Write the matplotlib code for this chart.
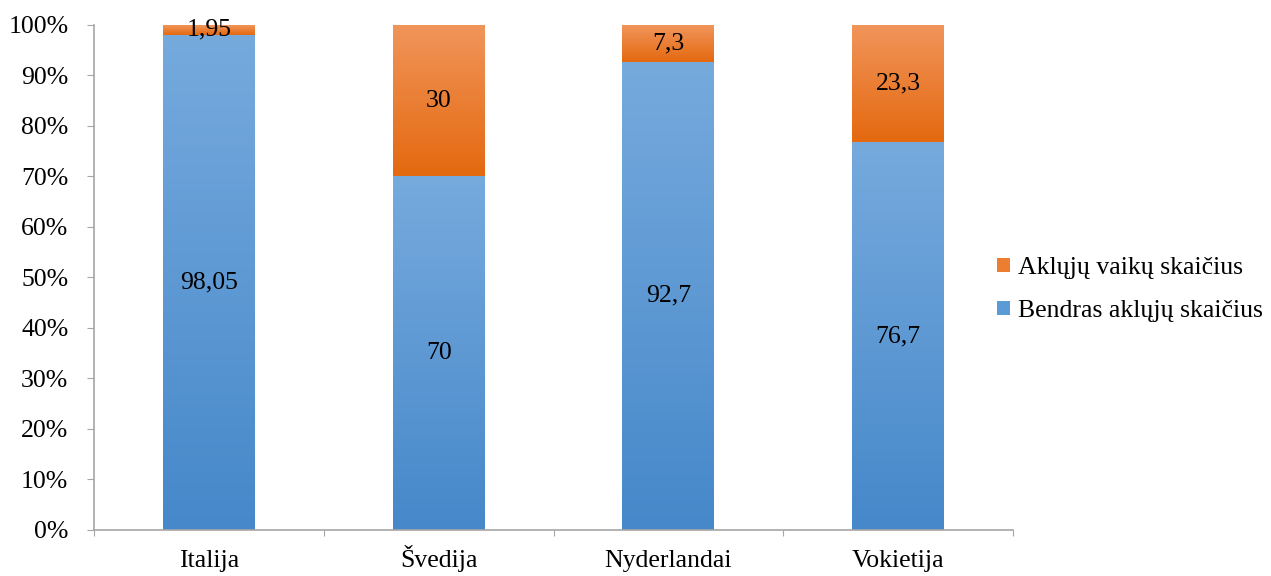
import numpy as np
import matplotlib.pyplot as plt
from matplotlib.colors import LinearSegmentedColormap
from matplotlib.patches import Patch

plt.rcParams['font.family'] = ['Liberation Serif', 'DejaVu Serif']

countries = ['Italija', 'Švedija', 'Nyderlandai', 'Vokietija']
bendras = [98.05, 70, 92.7, 76.7]
vaikai = [1.95, 30, 7.3, 23.3]
bendras_lbl = ['98,05', '70', '92,7', '76,7']
vaikai_lbl = ['1,95', '30', '7,3', '23,3']

FS = 18.5
blue_cm = LinearSegmentedColormap.from_list('b', ['#4688ca', '#76aadd'])
orange_cm = LinearSegmentedColormap.from_list('o', ['#e4690f', '#f1955b'])

fig = plt.figure(figsize=(12.71, 5.76), dpi=100)
ax = fig.add_axes([0.074, 0.080, 0.723, 0.877])

x = np.arange(len(countries))
b1 = ax.bar(x, bendras, width=0.4, color='#5b9bd5')
b2 = ax.bar(x, vaikai, width=0.4, bottom=bendras, color='#ed7d31')

# vertical gradient inside each segment
grad = np.linspace(0, 1, 256).reshape(-1, 1)
for bars, cm in ((b1, blue_cm), (b2, orange_cm)):
    for p in bars:
        x0, y0 = p.get_x(), p.get_y()
        w, h = p.get_width(), p.get_height()
        im = ax.imshow(grad, cmap=cm, origin='lower', aspect='auto',
                       extent=[x0, x0 + w, y0, y0 + h], zorder=2)
        im.set_clip_path(p)
        p.set_alpha(0)

for i in x:
    ax.text(i, bendras[i] / 2, bendras_lbl[i], ha='center', va='center', fontsize=FS, zorder=5)
    ax.text(i, bendras[i] + vaikai[i] / 2, vaikai_lbl[i], ha='center', va='center', fontsize=FS, zorder=5)

ax.set_xlim(-0.5, 3.5)
ax.set_ylim(0, 100)
ax.set_yticks(np.arange(0, 101, 10))
ax.set_yticklabels([f'{v}%' for v in range(0, 101, 10)], fontsize=FS)

ax.set_xticks(np.arange(-0.5, 4, 1))
ax.set_xticklabels([])
ax.set_xticks(x, minor=True)
ax.set_xticklabels(countries, minor=True, fontsize=FS)
for lbl in ax.get_xticklabels(minor=True):
    lbl.set_verticalalignment('baseline')
ax.tick_params(axis='x', which='minor', length=0, pad=27)
ax.tick_params(axis='x', which='major', length=4.5, color='#a6a6a6', direction='out')
ax.tick_params(axis='y', length=5, color='#a6a6a6', pad=13.5)

for s in ('top', 'right'):
    ax.spines[s].set_visible(False)
for s in ('left', 'bottom'):
    ax.spines[s].set_color('#a6a6a6')
    ax.spines[s].set_linewidth(1.2)

leg_handles = [Patch(facecolor='#ed7d31'), Patch(facecolor='#5b9bd5')]
fig.legend(leg_handles, ['Aklųjų vaikų skaičius', 'Bendras aklųjų skaičius'],
           loc='center left', bbox_to_anchor=(0.7844, 0.497), frameon=False, fontsize=FS,
           handlelength=0.5, handleheight=0.5, handletextpad=0.3, labelspacing=0.82,
           borderpad=0, borderaxespad=0)

fig.savefig('out.png', dpi=100)
